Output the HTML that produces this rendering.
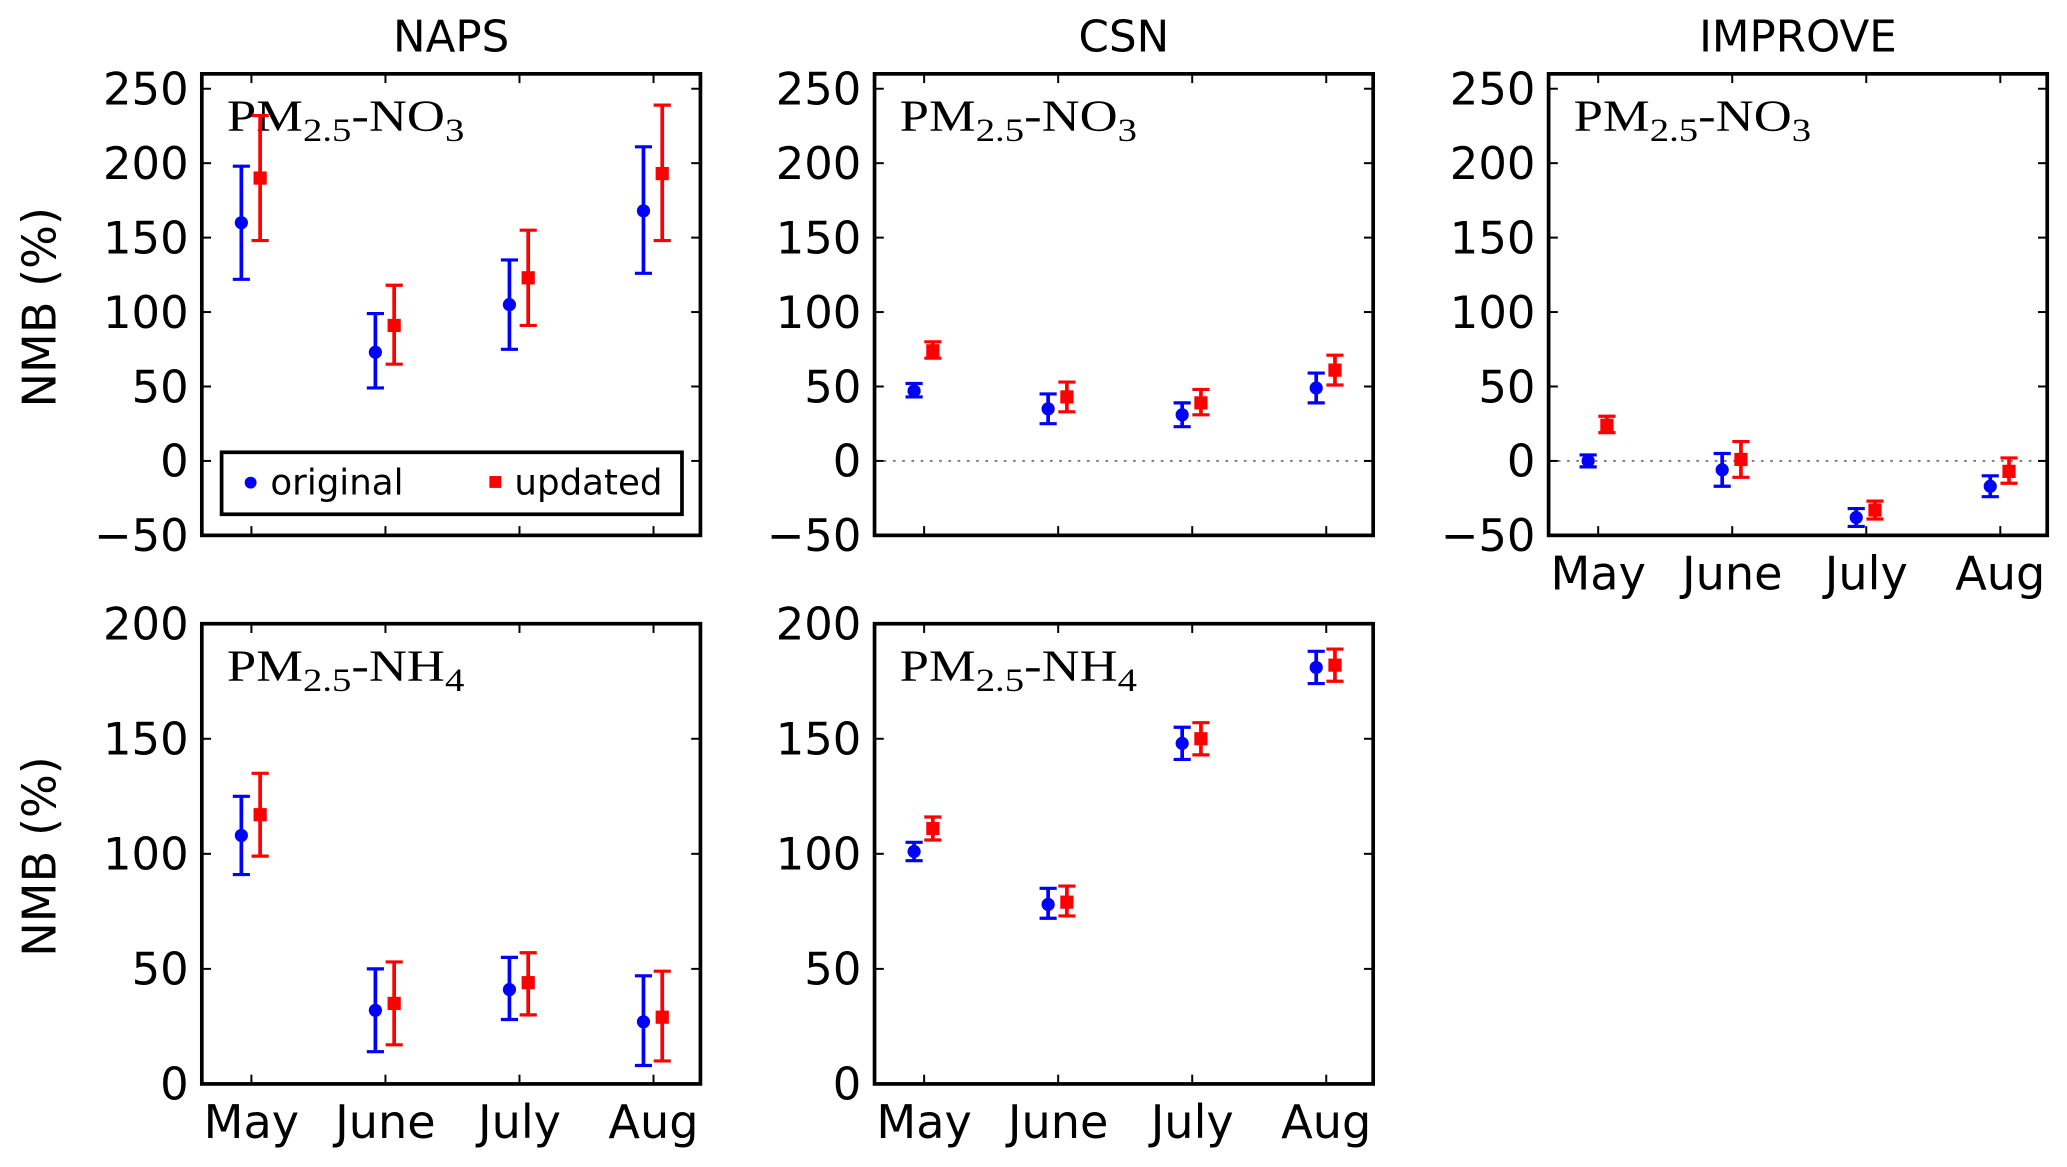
<!DOCTYPE html>
<html><head><meta charset="utf-8">
<style>html,body{margin:0;padding:0;background:#fff;}svg{display:block;}</style>
</head><body>
<svg id="fig" width="2067" height="1167" viewBox="0 0 1567 885" preserveAspectRatio="none" xmlns="http://www.w3.org/2000/svg" font-family="'DejaVu Sans','Liberation Sans',sans-serif"></svg>
<script>
const months = ["May","June","July","Aug"];
const napsNo3Orig = [160, 73, 105, 168];
const napsNo3OrigLo = [122, 49, 75, 126];
const napsNo3OrigHi = [198, 99, 135, 211];
const napsNo3Upd = [190, 91, 123, 193];
const napsNo3UpdLo = [148, 65, 91, 148];
const napsNo3UpdHi = [232, 118, 155, 239];
const csnNo3Orig = [47, 35, 31, 49];
const csnNo3OrigLo = [43, 25, 23, 39];
const csnNo3OrigHi = [52, 45, 39, 59];
const csnNo3Upd = [74, 43, 39, 61];
const csnNo3UpdLo = [69, 33, 31, 51];
const csnNo3UpdHi = [80, 53, 48, 71];
const impNo3Orig = [0, -6, -38, -17];
const impNo3OrigLo = [-4, -17, -44, -24];
const impNo3OrigHi = [4, 5, -32, -10];
const impNo3Upd = [24, 1, -33, -7];
const impNo3UpdLo = [19, -11, -39, -15];
const impNo3UpdHi = [30, 13, -27, 2];
const napsNh4Orig = [108, 32, 41, 27];
const napsNh4OrigLo = [91, 14, 28, 8];
const napsNh4OrigHi = [125, 50, 55, 47];
const napsNh4Upd = [117, 35, 44, 29];
const napsNh4UpdLo = [99, 17, 30, 10];
const napsNh4UpdHi = [135, 53, 57, 49];
const csnNh4Orig = [101, 78, 148, 181];
const csnNh4OrigLo = [97, 72, 141, 174];
const csnNh4OrigHi = [105, 85, 155, 188];
const csnNh4Upd = [111, 79, 150, 182];
const csnNh4UpdLo = [106, 73, 143, 175];
const csnNh4UpdHi = [116, 86, 157, 189];
const no3Ticks = [-50, 0, 50, 100, 150, 200, 250];
const nh4Ticks = [0, 50, 100, 150, 200];

const svg = document.getElementById('fig');
const NS = 'http://www.w3.org/2000/svg';
function mk(tag, attrs, parent){const e=document.createElementNS(NS,tag);for(const k in attrs)e.setAttribute(k,attrs[k]);(parent||svg).appendChild(e);return e;}

const panels = [
 {name:'naps-no3', x0:153,x1:531,y0:56,y1:406, ymin:-50,ymax:260, ticks:no3Ticks, title:'NAPS', ylab:true, xlab:false, zero:false, legend:true, sp:'NO', sub:'3',
  o:napsNo3Orig,ol:napsNo3OrigLo,oh:napsNo3OrigHi,u:napsNo3Upd,ul:napsNo3UpdLo,uh:napsNo3UpdHi},
 {name:'csn-no3', x0:663,x1:1041,y0:56,y1:406, ymin:-50,ymax:260, ticks:no3Ticks, title:'CSN', ylab:false, xlab:false, zero:true, sp:'NO', sub:'3',
  o:csnNo3Orig,ol:csnNo3OrigLo,oh:csnNo3OrigHi,u:csnNo3Upd,ul:csnNo3UpdLo,uh:csnNo3UpdHi},
 {name:'improve-no3', x0:1174,x1:1552,y0:56,y1:406, ymin:-50,ymax:260, ticks:no3Ticks, title:'IMPROVE', ylab:false, xlab:true, zero:true, sp:'NO', sub:'3',
  o:impNo3Orig,ol:impNo3OrigLo,oh:impNo3OrigHi,u:impNo3Upd,ul:impNo3UpdLo,uh:impNo3UpdHi},
 {name:'naps-nh4', x0:153,x1:531,y0:473,y1:822, ymin:0,ymax:200, ticks:nh4Ticks, ylab:true, xlab:true, zero:false, sp:'NH', sub:'4',
  o:napsNh4Orig,ol:napsNh4OrigLo,oh:napsNh4OrigHi,u:napsNh4Upd,ul:napsNh4UpdLo,uh:napsNh4UpdHi},
 {name:'csn-nh4', x0:663,x1:1041,y0:473,y1:822, ymin:0,ymax:200, ticks:nh4Ticks, ylab:false, xlab:true, zero:false, sp:'NH', sub:'4',
  o:csnNh4Orig,ol:csnNh4OrigLo,oh:csnNh4OrigHi,u:csnNh4Upd,ul:csnNh4UpdLo,uh:csnNh4UpdHi}
];

panels.forEach(p=>{
  const g = mk('g',{});
  
  
  const xs = v => p.x0 + (v-0.63)/(4.35-0.63)*(p.x1-p.x0);
  const ys = v => p.y1 - (v-p.ymin)/(p.ymax-p.ymin)*(p.y1-p.y0);
  if(p.title){const t=mk('text',{x:(p.x0+p.x1)/2,y:39,'font-size':33,'text-anchor':'middle'},g);t.textContent=p.title;
    
    }
  if(p.zero){const z=mk('line',{x1:p.x0,x2:p.x1,y1:ys(0),y2:ys(0),stroke:'#666','stroke-width':1.2,'stroke-dasharray':'2,5'},g);
    
    }
  p.ticks.forEach(t=>{
    const y=ys(t);
    mk('line',{x1:p.x0,x2:p.x0+7,y1:y,y2:y,stroke:'#000','stroke-width':1.5},g);
    mk('line',{x1:p.x1,x2:p.x1-7,y1:y,y2:y,stroke:'#000','stroke-width':1.5},g);
    const l=mk('text',{x:p.x0-10,y:y+12,'font-size':34,'text-anchor':'end'},g);
    l.textContent = t<0 ? '\u2212'+Math.abs(t) : String(t);
    
    
  });
  months.forEach((m,i)=>{
    const x=xs(i+1);
    mk('line',{x1:x,x2:x,y1:p.y1,y2:p.y1-7,stroke:'#000','stroke-width':1.5},g);
    mk('line',{x1:x,x2:x,y1:p.y0,y2:p.y0+7,stroke:'#000','stroke-width':1.5},g);
    if(p.xlab){const l=mk('text',{x:x,y:p.y1+41,'font-size':35,'text-anchor':'middle'},g);l.textContent=m;
      
      }
  });
  if(p.ylab){const cy=(p.y0+p.y1)/2+2;const l=mk('text',{x:42,y:cy,'font-size':35,'text-anchor':'middle',transform:`rotate(-90 42 ${cy})`},g);l.textContent='NMB (%)';
    
    }
  const ann=mk('text',{x:p.x0+19,y:p.y0+43,'font-size':34,textLength:180,lengthAdjust:'spacingAndGlyphs','font-family':"'Liberation Serif','DejaVu Serif',serif"},g);
  ann.innerHTML=`PM<tspan font-size="25" dy="8">2.5</tspan><tspan dy="-8">-${p.sp}</tspan><tspan font-size="25" dy="8">${p.sub}</tspan>`;
  
  
  months.forEach((m,i)=>{
    const xo=xs(i+1-0.075), xu=xs(i+1+0.065);
    const eo=mk('g',{},g);
    
    
    mk('line',{x1:xo,x2:xo,y1:ys(p.ol[i]),y2:ys(p.oh[i]),stroke:'#0000ff','stroke-width':2.8},eo);
    mk('line',{x1:xo-6.5,x2:xo+6.5,y1:ys(p.ol[i]),y2:ys(p.ol[i]),stroke:'#0000ff','stroke-width':2.4},eo);
    mk('line',{x1:xo-6.5,x2:xo+6.5,y1:ys(p.oh[i]),y2:ys(p.oh[i]),stroke:'#0000ff','stroke-width':2.4},eo);
    mk('circle',{cx:xo,cy:ys(p.o[i]),r:5,fill:'#0000ff'},eo);
    const eu=mk('g',{},g);
    
    
    mk('line',{x1:xu,x2:xu,y1:ys(p.ul[i]),y2:ys(p.uh[i]),stroke:'#ff0000','stroke-width':2.8},eu);
    mk('line',{x1:xu-6.5,x2:xu+6.5,y1:ys(p.ul[i]),y2:ys(p.ul[i]),stroke:'#ff0000','stroke-width':2.4},eu);
    mk('line',{x1:xu-6.5,x2:xu+6.5,y1:ys(p.uh[i]),y2:ys(p.uh[i]),stroke:'#ff0000','stroke-width':2.4},eu);
    mk('rect',{x:xu-5,y:ys(p.u[i])-5,width:10,height:10,fill:'#ff0000'},eu);
  });
  const fr=mk('rect',{x:p.x0,y:p.y0,width:p.x1-p.x0,height:p.y1-p.y0,fill:'none',stroke:'#000','stroke-width':2.8},g);
  
  
  if(p.legend){
    const lg=mk('g',{},g);
    
    
    mk('rect',{x:168,y:343,width:349,height:47,fill:'#fff',stroke:'#000','stroke-width':2.8},lg);
    mk('circle',{cx:190,cy:366,r:4.5,fill:'#0000ff'},lg);
    const t1=mk('text',{x:205,y:375,'font-size':27},lg);t1.textContent='original';
    
    
    mk('rect',{x:371,y:361,width:9,height:9,fill:'#ff0000'},lg);
    const t2=mk('text',{x:390,y:375,'font-size':27},lg);t2.textContent='updated';
    
    
  }
});
</script>
</body></html>
